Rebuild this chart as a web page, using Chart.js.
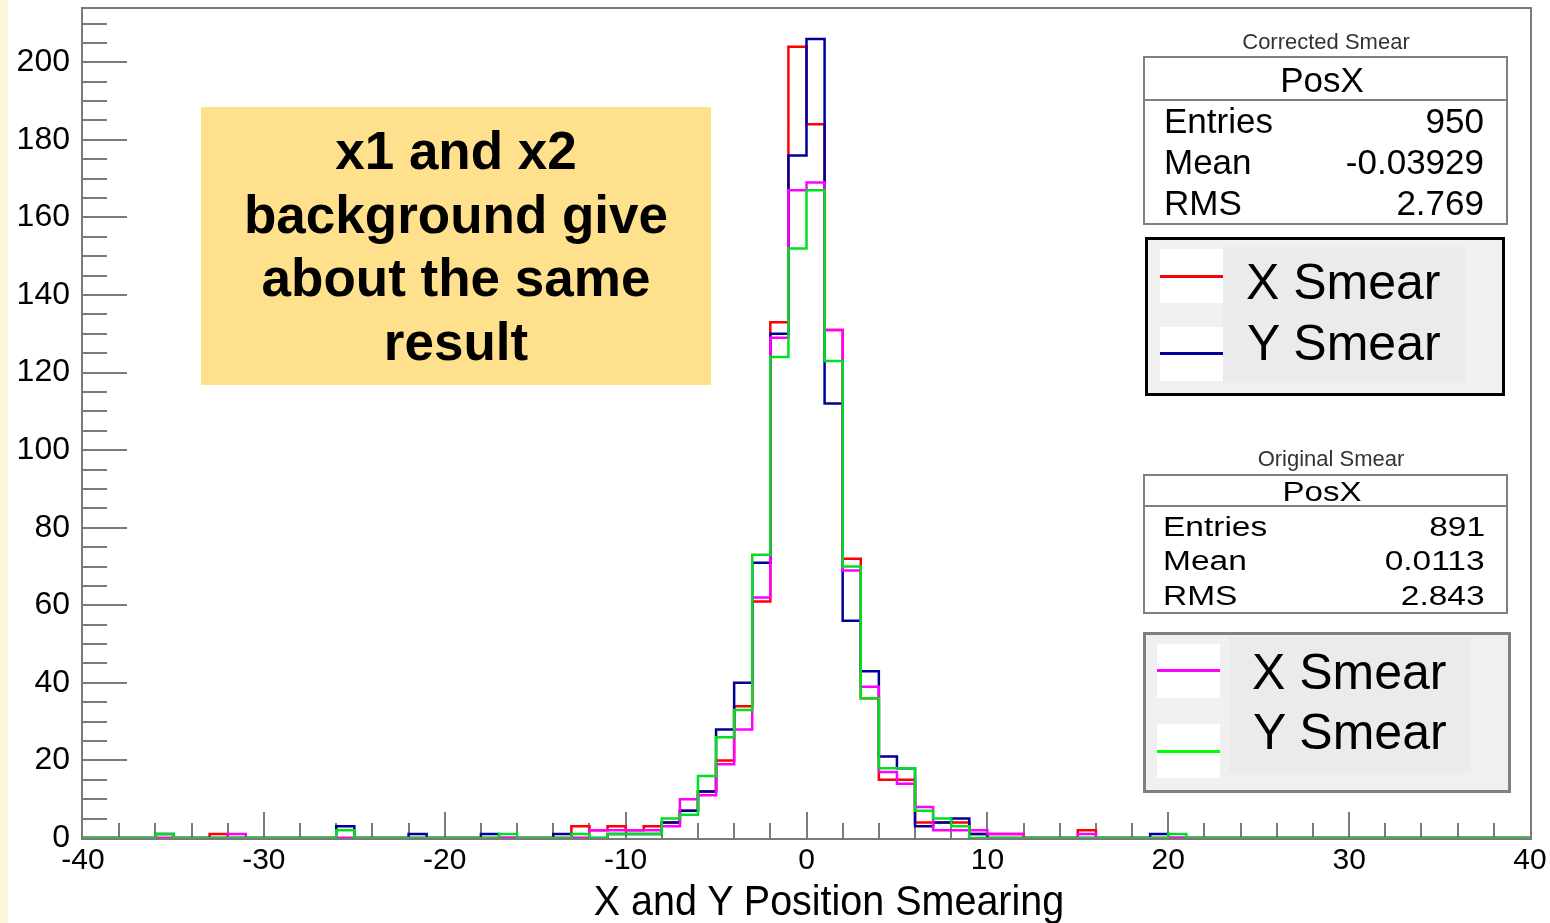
<!DOCTYPE html>
<html>
<head>
<meta charset="utf-8">
<title>X and Y Position Smearing</title>
<script src="https://cdn.jsdelivr.net/npm/chart.js@4.4.1/dist/chart.umd.min.js"></script>
<style>
  html, body { margin: 0; padding: 0; background: #fff; }
  body { width: 1550px; height: 923px; position: relative; overflow: hidden;
         font-family: "Liberation Sans", Arial, sans-serif; }
  #strip { position: absolute; left: 0; top: 0; width: 8px; height: 923px; background: #f8f8d8; }
  #mainChart { position: absolute; left: 0; top: 0; }
  .box { position: absolute; box-sizing: border-box; }
  .txt { position: absolute; white-space: nowrap; line-height: 1; color: #000; }
</style>
</head>
<body>
<div id="strip"></div>
<canvas id="mainChart" width="1550" height="923"></canvas>
<script>
// lower edge of each 1-unit bin, -40 .. 39
const binLow = [
  -40, -39, -38, -37, -36, -35, -34, -33, -32, -31,
  -30, -29, -28, -27, -26, -25, -24, -23, -22, -21,
  -20, -19, -18, -17, -16, -15, -14, -13, -12, -11,
  -10, -9, -8, -7, -6, -5, -4, -3, -2, -1,
  0, 1, 2, 3, 4, 5, 6, 7, 8, 9,
  10, 11, 12, 13, 14, 15, 16, 17, 18, 19,
  20, 21, 22, 23, 24, 25, 26, 27, 28, 29,
  30, 31, 32, 33, 34, 35, 36, 37, 38, 39
];
const binHigh = 40;

// Corrected smear
const xSmearCorr = [
  0, 0, 0, 0, 0, 0, 0, 1, 0, 0,
  0, 0, 0, 0, 0, 0, 0, 0, 0, 0,
  0, 0, 0, 0, 0, 0, 0, 3, 2, 3,
  2, 3, 4, 7, 12, 20, 34, 61, 133, 204,
  184, 131, 72, 36, 15, 15, 4, 4, 4, 1,
  1, 1, 0, 0, 0, 2, 0, 0, 0, 0,
  0, 0, 0, 0, 0, 0, 0, 0, 0, 0,
  0, 0, 0, 0, 0, 0, 0, 0, 0, 0
];
const ySmearCorr = [
  0, 0, 0, 0, 1, 0, 0, 0, 0, 0,
  0, 0, 0, 0, 3, 0, 0, 0, 1, 0,
  0, 0, 1, 0, 0, 0, 1, 0, 0, 1,
  1, 1, 4, 7, 12, 28, 40, 71, 130, 176,
  206, 112, 56, 43, 21, 18, 3, 4, 5, 1,
  0, 0, 0, 0, 0, 0, 0, 0, 0, 1,
  0, 0, 0, 0, 0, 0, 0, 0, 0, 0,
  0, 0, 0, 0, 0, 0, 0, 0, 0, 0
];
// Original smear
const xSmearOrig = [
  0, 0, 0, 0, 0, 0, 0, 0, 1, 0,
  0, 0, 0, 0, 0, 0, 0, 0, 0, 0,
  0, 0, 0, 0, 0, 0, 0, 0, 2, 2,
  2, 2, 3, 10, 11, 19, 28, 62, 129, 167,
  169, 131, 69, 39, 17, 14, 8, 2, 2, 2,
  1, 1, 0, 0, 0, 1, 0, 0, 0, 0,
  0, 0, 0, 0, 0, 0, 0, 0, 0, 0,
  0, 0, 0, 0, 0, 0, 0, 0, 0, 0
];
const ySmearOrig = [
  0, 0, 0, 0, 1, 0, 0, 0, 0, 0,
  0, 0, 0, 0, 2, 0, 0, 0, 0, 0,
  0, 0, 0, 1, 0, 0, 0, 1, 0, 1,
  1, 1, 5, 6, 16, 26, 33, 73, 124, 152,
  167, 123, 70, 36, 18, 18, 7, 5, 3, 0,
  0, 0, 0, 0, 0, 0, 0, 0, 0, 0,
  1, 0, 0, 0, 0, 0, 0, 0, 0, 0,
  0, 0, 0, 0, 0, 0, 0, 0, 0, 0
];

const statsCorr = [["Entries", "950"], ["Mean", "-0.03929"], ["RMS", "2.769"]];
const statsOrig = [["Entries", "891"], ["Mean", "0.0113"], ["RMS", "2.843"]];

const FONT = '"Liberation Sans", Arial, sans-serif';

function histPoints(values) {
  const pts = binLow.map((x, i) => ({ x: x, y: values[i] }));
  pts.push({ x: binHigh, y: values[values.length - 1] });
  return pts;
}

function histSet(label, values, color, order) {
  return {
    label: label,
    data: histPoints(values),
    borderColor: color,
    backgroundColor: color,
    borderWidth: 2.5,
    pointRadius: 0,
    stepped: 'before',
    fill: false,
    order: order
  };
}

// ROOT-style frame with inward ticks
const axisFrame = {
  id: 'axisFrame',
  beforeDatasetsDraw(chart) {
    const { ctx, chartArea: a, scales: { x, y } } = chart;
    ctx.save();
    ctx.strokeStyle = '#7a7a7a';
    ctx.lineWidth = 2;
    ctx.strokeRect(a.left - 1, a.top, a.width + 2, a.height + 1);
    ctx.beginPath();
    for (let v = 5; v <= 210; v += 5) {
      const py = Math.round(y.getPixelForValue(v));
      ctx.moveTo(a.left, py);
      ctx.lineTo(a.left + (v % 20 === 0 ? 44 : 24), py);
    }
    for (let v = -38; v <= 38; v += 2) {
      const px = Math.round(x.getPixelForValue(v));
      ctx.moveTo(px, a.bottom);
      ctx.lineTo(px, a.bottom - (v % 10 === 0 ? 26 : 15));
    }
    ctx.stroke();
    ctx.restore();
  }
};

new Chart(document.getElementById('mainChart').getContext('2d'), {
  type: 'line',
  data: {
    datasets: [
      histSet('X Smear (corrected)', xSmearCorr, '#ff0000', 3),
      histSet('Y Smear (corrected)', ySmearCorr, '#000099', 2),
      histSet('X Smear (original)', xSmearOrig, '#ff00ff', 1),
      histSet('Y Smear (original)', ySmearOrig, '#00e020', 0)
    ]
  },
  options: {
    responsive: false,
    animation: false,
    layout: { padding: { top: 8, right: 20, left: 0, bottom: 0 } },
    plugins: { legend: { display: false }, tooltip: { enabled: false } },
    scales: {
      x: {
        type: 'linear', min: -40, max: 40,
        grid: { display: false, drawTicks: false },
        border: { display: false },
        ticks: { stepSize: 10, padding: 5, color: '#000', maxRotation: 0,
                 font: { family: FONT, size: 30 } },
        afterFit: (s) => { s.height = 85; s.paddingLeft = 0; s.paddingRight = 0; }
      },
      y: {
        min: 0, max: 214,
        grid: { display: false, drawTicks: false },
        border: { display: false },
        ticks: { stepSize: 20, padding: 13, color: '#000', includeBounds: false,
                 font: { family: FONT, size: 32 } },
        afterFit: (s) => { s.width = 83; s.paddingTop = 0; s.paddingBottom = 0; }
      }
    }
  },
  plugins: [axisFrame]
});

// ---- overlays: note box, stat boxes, legends, axis title ----
function addBox(l, t, r, b, css) {
  const el = document.createElement('div');
  el.className = 'box';
  el.style.left = l + 'px';
  el.style.top = t + 'px';
  el.style.width = (r - l) + 'px';
  el.style.height = (b - t) + 'px';
  Object.assign(el.style, css || {});
  document.body.appendChild(el);
  return el;
}

function addText(str, x, baseline, size, align, opts) {
  opts = opts || {};
  const el = document.createElement('div');
  el.className = 'txt';
  el.textContent = str;
  el.style.fontSize = size + 'px';
  el.style.top = (baseline - 0.8465 * size) + 'px';
  if (opts.weight) el.style.fontWeight = opts.weight;
  if (opts.color) el.style.color = opts.color;
  const sx = opts.scaleX || 1;
  if (align === 'left') {
    el.style.left = x + 'px';
    el.style.transformOrigin = 'left';
    el.style.transform = 'scaleX(' + sx + ')';
  } else if (align === 'right') {
    el.style.right = (1550 - x) + 'px';
    el.style.transformOrigin = 'right';
    el.style.transform = 'scaleX(' + sx + ')';
  } else {
    el.style.left = x + 'px';
    el.style.transformOrigin = 'center';
    el.style.transform = 'translateX(-50%) scaleX(' + sx + ')';
  }
  document.body.appendChild(el);
  return el;
}

// yellow note
addBox(201, 107, 711, 385, { background: '#ffe08c' });
const noteLines = ['x1 and x2', 'background give', 'about the same', 'result'];
noteLines.forEach((s, i) => addText(s, 456, 169 + i * 63.5, 53, 'center', { weight: 'bold' }));

// corrected stats box
addText('Corrected Smear', 1326, 50, 22, 'center', { color: '#333' });
addBox(1143, 56, 1508, 225, { border: '2px solid #808080', background: '#fff' });
addBox(1143, 99, 1508, 101, { background: '#808080' });
addText('PosX', 1322, 91.5, 35, 'center');
statsCorr.forEach((row, i) => {
  addText(row[0], 1164, 132.7 + i * 41.2, 35, 'left');
  addText(row[1], 1484, 132.7 + i * 41.2, 35, 'right');
});

// corrected legend
addBox(1145, 237, 1505, 396, { border: '3px solid #000', background: '#f0f0f0' });
addBox(1223, 247, 1465, 383, { background: '#ebebeb' });
addBox(1160, 249, 1223, 303, { background: '#fff' });
addBox(1160, 327, 1223, 381, { background: '#fff' });
addBox(1160, 275, 1223, 278, { background: '#ff0000' });
addBox(1160, 352, 1223, 355, { background: '#000099' });
addText('X Smear', 1246, 299.5, 50, 'left');
addText('Y Smear', 1247, 360, 50, 'left');

// original stats box
addText('Original Smear', 1331, 466.5, 22, 'center', { color: '#333' });
addBox(1143, 474, 1508, 614, { border: '2px solid #808080', background: '#fff' });
addBox(1143, 505, 1508, 507, { background: '#808080' });
addText('PosX', 1322, 501.5, 28, 'center', { scaleX: 1.18 });
statsOrig.forEach((row, i) => {
  addText(row[0], 1163, 536.7 + i * 34.5, 27, 'left', { scaleX: 1.24 });
  addText(row[1], 1485, 536.7 + i * 34.5, 27, 'right', { scaleX: 1.24 });
});

// original legend
addBox(1143, 632, 1511, 793, { border: '3px solid #808080', background: '#f0f0f0' });
addBox(1229, 637, 1471, 773, { background: '#ebebeb' });
addBox(1157, 644, 1220, 698, { background: '#fff' });
addBox(1157, 724, 1220, 778, { background: '#fff' });
addBox(1157, 668.5, 1220, 671.5, { background: '#ff00ff' });
addBox(1157, 749.5, 1220, 752.5, { background: '#00ff00' });
addText('X Smear', 1252, 689.5, 50, 'left');
addText('Y Smear', 1253, 749.5, 50, 'left');

// x-axis title
addText('X and Y Position Smearing', 829, 916, 42, 'center', { scaleX: 0.94 });
</script>
</body>
</html>
